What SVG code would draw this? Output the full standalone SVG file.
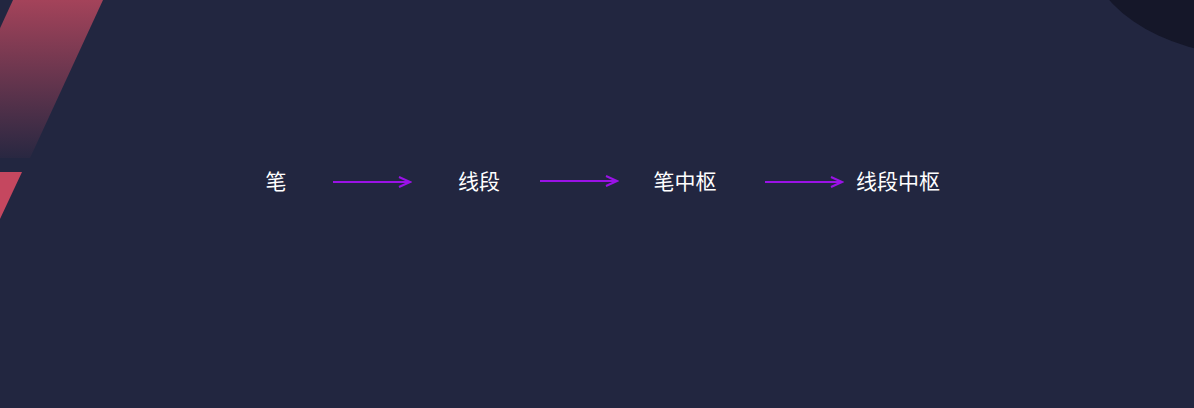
<svg xmlns="http://www.w3.org/2000/svg" width="1194" height="408" viewBox="0 0 1194 408">
<style>
.t{font-family:"Noto Sans CJK SC","Liberation Sans",sans-serif;font-size:21px;fill:#fff;text-anchor:middle}
.c{stroke:#9a12e6;stroke-width:2;fill:none}
</style>
<defs>
<linearGradient id="g" x1="0" y1="0" x2="0" y2="1">
<stop offset="0" stop-color="#a4435a"/>
<stop offset="1" stop-color="#a4435a" stop-opacity="0.05"/>
</linearGradient>
<marker id="a" markerWidth="14" markerHeight="12" refX="12" refY="6" orient="auto" markerUnits="userSpaceOnUse">
<path d="M1,1 L12,6 L1,11" class="c"/>
</marker>
</defs>
<rect width="1194" height="408" fill="#222640"/>
<polygon points="13,0 103,0 30,158 -60,158" fill="url(#g)"/>
<polygon points="0,172 22,172 0,219" fill="#c5475f"/>
<ellipse cx="1250" cy="-60" rx="165" ry="115" fill="#151729"/>
<g id="connectors">
<line x1="333" y1="182" x2="410" y2="182" class="c" marker-end="url(#a)"/>
<line x1="540" y1="181" x2="617" y2="181" class="c" marker-end="url(#a)"/>
<line x1="765" y1="182" x2="842" y2="182" class="c" marker-end="url(#a)"/>
</g>
<g id="n1"><text class="t" x="276" y="189">笔</text></g>
<g id="n2"><text class="t" x="479" y="189">线段</text></g>
<g id="n3"><text class="t" x="685" y="189">笔中枢</text></g>
<g id="n4"><text class="t" x="898" y="189">线段中枢</text></g>
</svg>
